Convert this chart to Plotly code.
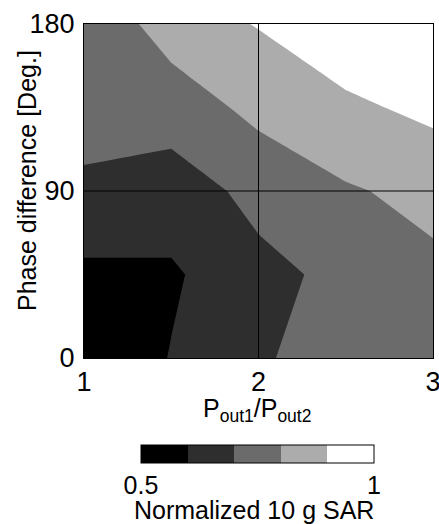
import plotly.graph_objects as go

# Power ratio P_out1/P_out2 (x) and phase difference in degrees (y)
power_ratio = [1.0, 1.5, 2.0, 2.5, 3.0]
phase_deg = [0, 45, 90, 135, 180]
# Normalized 10 g SAR, rows = phase, cols = power ratio
sar = [
    [0.50, 0.605, 0.680, 0.780, 0.790],
    [0.58, 0.585, 0.679, 0.719, 0.780],
    [0.68, 0.660, 0.7225, 0.790, 0.826],
    [0.744, 0.739, 0.830, 0.880, 0.9245],
    [0.71, 0.853, 0.905, 0.975, 0.990],
]
x_ticks = [1, 2, 3]
y_ticks = [0, 90, 180]
cbar_ticks = [0.5, 1]
cbar_ticktext = ["0.5", "1"]
levels_start, levels_end, levels_size = 0.5, 1.0, 0.1
grays = ["#000000", "#2e2e2e", "#6b6b6b", "#acacac", "#ffffff"]

n = len(grays)
colorscale = []
for i, c in enumerate(grays):
    colorscale.append([i / n, c])
    colorscale.append([(i + 1) / n, c])

FONT = "Liberation Sans, Arial, sans-serif"
TICK_SIZE = 27
TITLE_SIZE = 25

fig = go.Figure()
fig.add_trace(go.Contour(
    x=power_ratio, y=phase_deg, z=sar,
    zmin=levels_start, zmax=levels_end,
    colorscale=colorscale,
    autocontour=False,
    contours=dict(start=levels_start, end=levels_end, size=levels_size, coloring="fill", showlines=False),
    line=dict(width=0, smoothing=0),
    hoverinfo="skip",
    colorbar=dict(
        orientation="h",
        x=0.497, xanchor="center",
        y=-0.2605, yanchor="top",
        lenmode="pixels", len=233,
        thickness=18,
        outlinewidth=1, outlinecolor="black",
        tickvals=cbar_ticks, ticktext=cbar_ticktext,
        ticks="",
        tickfont=dict(family=FONT, size=25, color="black"),
        xpad=0, ypad=0,
    ),
))

# reference lines at the middle ticks, drawn above the filled contours
for xv in x_ticks[1:-1]:
    fig.add_shape(type="line", x0=xv, x1=xv, y0=y_ticks[0], y1=y_ticks[-1],
                  line=dict(color="black", width=1), layer="above")
for yv in y_ticks[1:-1]:
    fig.add_shape(type="line", x0=x_ticks[0], x1=x_ticks[-1], y0=yv, y1=yv,
                  line=dict(color="black", width=1), layer="above")

# axis titles and colorbar title as positioned annotations
fig.add_annotation(text="Phase difference [Deg.]", xref="paper", yref="paper",
                   x=-0.1633, y=0.53, xanchor="center", yanchor="middle", textangle=-90,
                   showarrow=False, font=dict(family=FONT, size=TITLE_SIZE, color="black"))
fig.add_annotation(text="P<sub>out1</sub>/P<sub>out2</sub>", xref="paper", yref="paper",
                   x=0.4957, y=-0.155, xanchor="center", yanchor="middle",
                   showarrow=False, font=dict(family=FONT, size=TITLE_SIZE, color="black"))
fig.add_annotation(text="Normalized 10 g SAR", xref="paper", yref="paper",
                   x=0.4857, y=-0.455, xanchor="center", yanchor="middle", showarrow=False,
                   font=dict(family=FONT, size=TITLE_SIZE, color="black"))

fig.update_layout(
    width=439, height=524,
    margin=dict(l=84, r=6, t=24, b=166),
    paper_bgcolor="white", plot_bgcolor="white",
    font=dict(family=FONT, size=TITLE_SIZE, color="black"),
    showlegend=False,
    xaxis=dict(
        range=[x_ticks[0], x_ticks[-1]], tickvals=x_ticks, ticks="",
        showgrid=False, zeroline=False, automargin=False,
        showline=True, mirror=True, linecolor="black", linewidth=1,
        tickfont=dict(family=FONT, size=TICK_SIZE, color="black"),
        ticklabeloverflow="allow",
        layer="above traces",
    ),
    yaxis=dict(
        range=[y_ticks[0], y_ticks[-1]], tickvals=y_ticks, ticks="",
        showgrid=False, zeroline=False, automargin=False,
        showline=True, mirror=True, linecolor="black", linewidth=1,
        tickfont=dict(family=FONT, size=TICK_SIZE, color="black"),
        ticklabeloverflow="allow", ticklabelstandoff=3,
        layer="above traces",
    ),
)

fig.write_html(
    "out.html",
    config={"displayModeBar": False},
    post_script="document.body.style.margin='0';document.body.style.padding='0';",
)
